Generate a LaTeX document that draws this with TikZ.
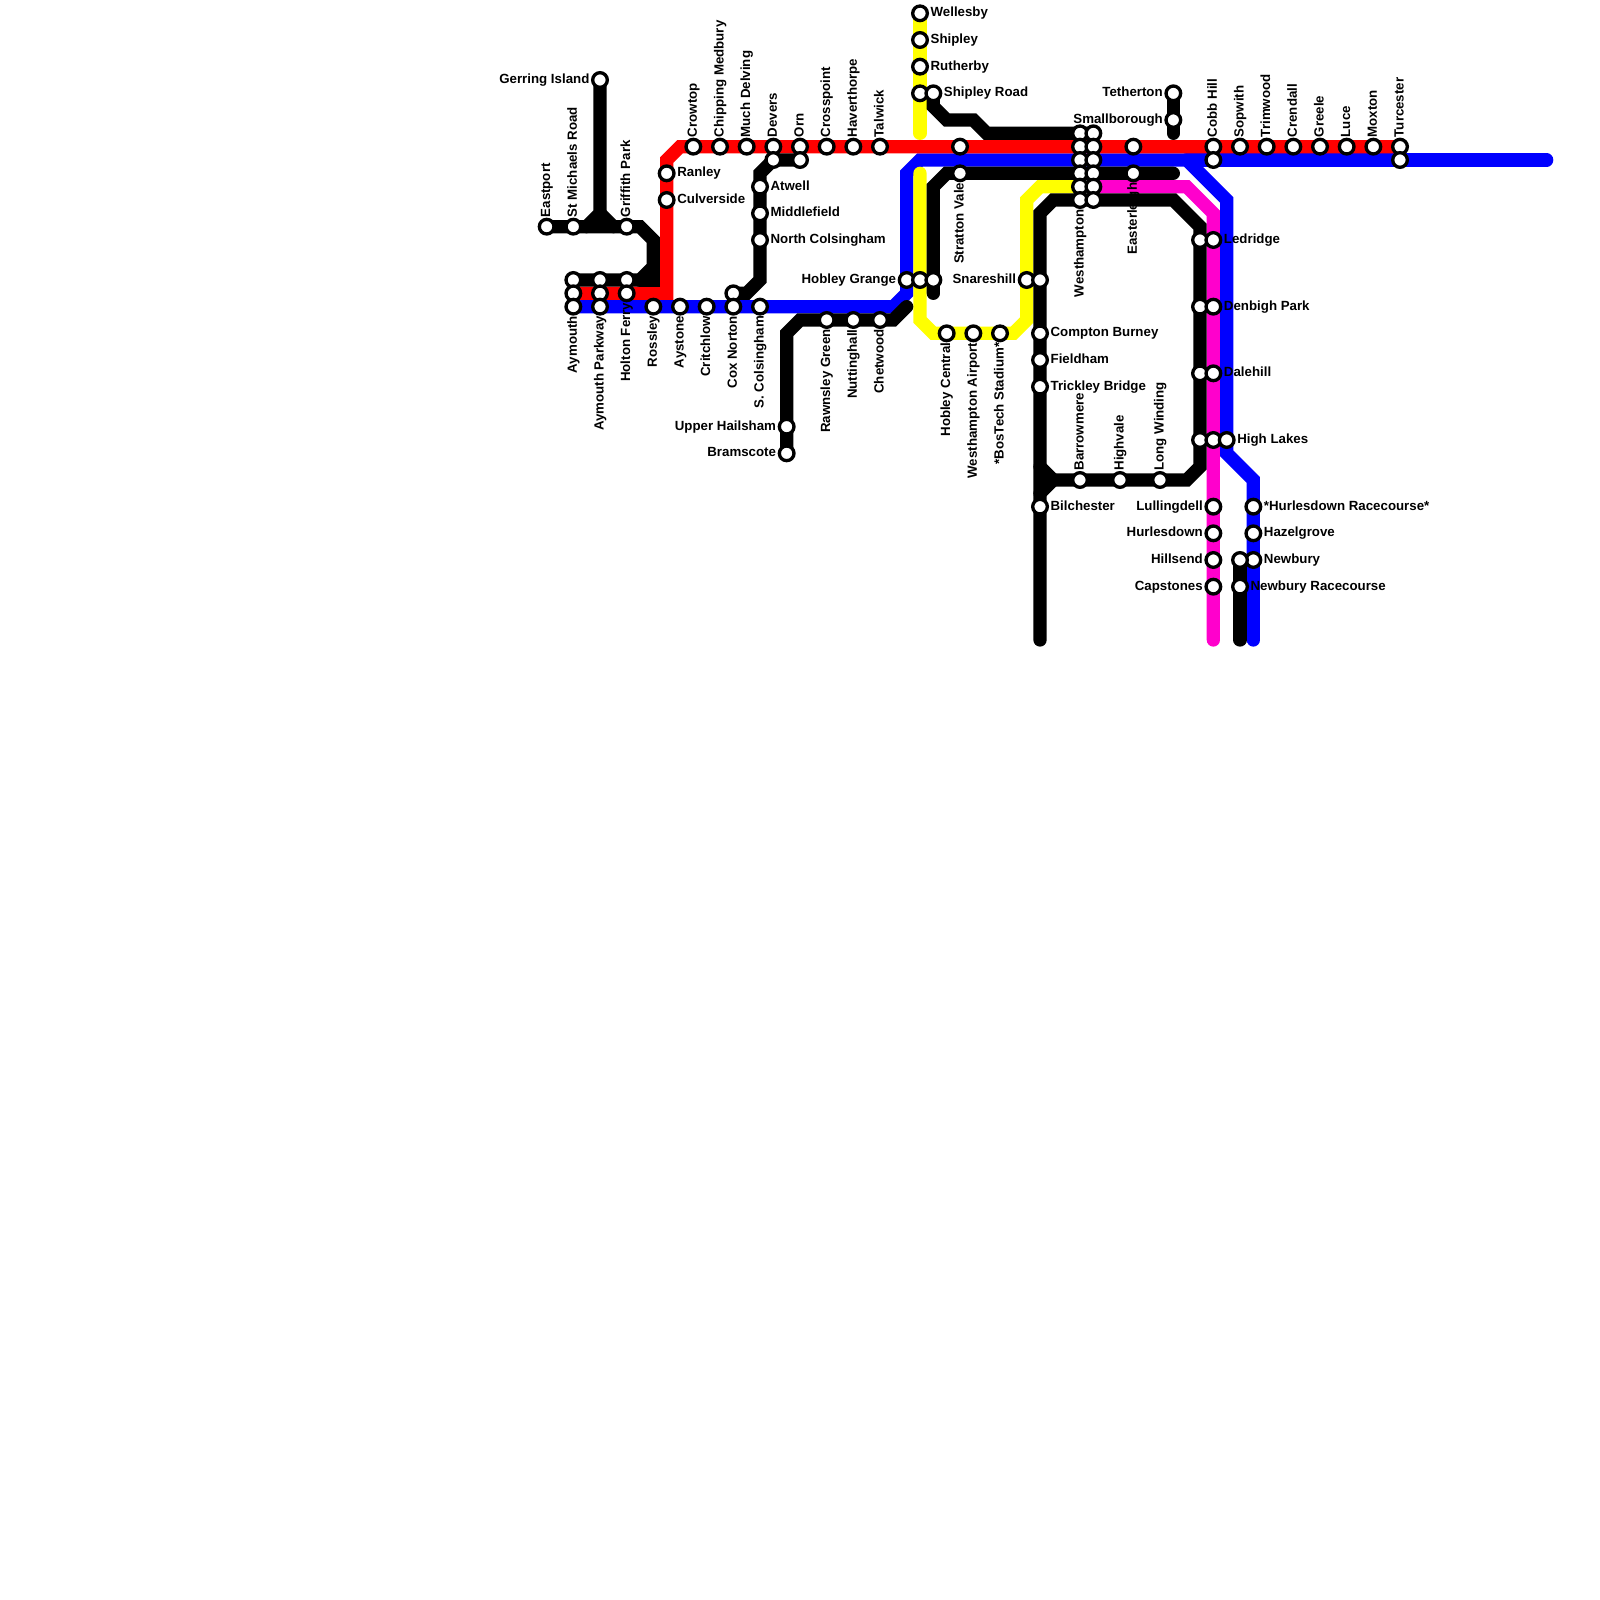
\documentclass[tikz,border=0pt]{standalone}
\usepackage{fontspec}
\setmainfont{Liberation Sans}
\usetikzlibrary{backgrounds}
\definecolor{linemagenta}{HTML}{FF00CC}
\definecolor{linered}{HTML}{FF0000}
\definecolor{lineblue}{HTML}{0000FF}
\definecolor{lineyellow}{HTML}{FFFF00}
\tikzset{
    stn/.style={circle,draw,fill=white,line width=1.42pt,inner sep=0pt,minimum size=6.25pt},
    every label/.style={font=\fontsize{5.67}{6}\selectfont\bfseries,inner xsep=.5pt,inner ysep=0pt,text height=4.1pt,text depth=1.1pt},
    label distance=0pt,
    up/.style={rotate=90,anchor=west,inner xsep=0pt},
    dn/.style={rotate=90,anchor=east,inner xsep=0pt},
    track/.style={line width=5.67pt,line cap=round,miter limit=10},
}

\begin{document}
\begin{tikzpicture}[x=.2cm,y=-.2cm]
\useasboundingbox (0,0) rectangle (120,120);

% west end
\node[stn,label=left:Gerring Island] (gerring) at (45,6) {};
\node[stn,label={[up]above:Eastport}] (eastport) at (41,17) {};
\node[stn,label={[up]above:St Michaels Road}] (michaels) at (43,17) {};
\node[stn,label={[up]above:Griffith Park}] (griffith) at (47,17) {};
\node[stn] (aym1) at (43,21) {};
\node[stn] (aym2) at (43,22) {};
\node[stn,label={[dn]below:Aymouth}] (aym3) at (43,23) {};
\node[stn] (park1) at (45,21) {};
\node[stn] (park2) at (45,22) {};
\node[stn,label={[dn]below:Aymouth Parkway}] (park3) at (45,23) {};
\node[stn] (holton1) at (47,21) {};
\node[stn,label={[dn]below:Holton Ferry}] (holton2) at (47,22) {};
\node[stn,label={[dn]below:Rossley}] (rossley) at (49,23) {};
\node[stn,label={[dn]below:Aystone}] (aystone) at (51,23) {};
\node[stn,label={[dn]below:Critchlow}] (critchlow) at (53,23) {};
\node[stn] (cox1) at (55,22) {};
\node[stn,label={[dn]below:Cox Norton}] (cox2) at (55,23) {};
\node[stn,label={[dn]below:S. Colsingham}] (scols) at (57,23) {};
\node[stn,label=right:Ranley] (ranley) at (50,13) {};
\node[stn,label=right:Culverside] (culverside) at (50,15) {};
\node[stn,label=right:Atwell] (atwell) at (57,14) {};
\node[stn,label=right:Middlefield] (middlefield) at (57,16) {};
\node[stn,label=right:North Colsingham] (ncols) at (57,18) {};

% top row
\node[stn,label={[up]above:Crowtop}] (crowtop) at (52,11) {};
\node[stn,label={[up]above:Chipping Medbury}] (chipping) at (54,11) {};
\node[stn,label={[up]above:Much Delving}] (delving) at (56,11) {};
\node[stn,label={[up]above:Devers}] (devers1) at (58,11) {};
\node[stn] (devers2) at (58,12) {};
\node[stn,label={[up]above:Orn}] (orn1) at (60,11) {};
\node[stn] (orn2) at (60,12) {};
\node[stn,label={[up]above:Crosspoint}] (crosspoint) at (62,11) {};
\node[stn,label={[up]above:Haverthorpe}] (haverthorpe) at (64,11) {};
\node[stn,label={[up]above:Talwick}] (talwick) at (66,11) {};
\node[stn,label={[up]above:Cobb Hill}] (cobb1) at (91,11) {};
\node[stn] (cobb2) at (91,12) {};
\node[stn,label={[up]above:Sopwith}] (sopwith) at (93,11) {};
\node[stn,label={[up]above:Trimwood}] (trimwood) at (95,11) {};
\node[stn,label={[up]above:Crendall}] (crendall) at (97,11) {};
\node[stn,label={[up]above:Greele}] (greele) at (99,11) {};
\node[stn,label={[up]above:Luce}] (luce) at (101,11) {};
\node[stn,label={[up]above:Moxton}] (moxton) at (103,11) {};
\node[stn,label={[up]above:Turcester}] (turcester1) at (105,11) {};
\node[stn] (turcester2) at (105,12) {};

% middle
\node[stn,label={[dn]below:Rawnsley Green}] (rawnsley) at (62,24) {};
\node[stn,label={[dn]below:Nuttinghall}] (nuttinghall) at (64,24) {};
\node[stn,label={[dn]below:Chetwood}] (chetwood) at (66,24) {};
\node[stn,label=left:Upper Hailsham] (hailsham) at (59,32) {};
\node[stn,label=left:Bramscote] (bramscote) at (59,34) {};
\node[stn,label=right:Wellesby] (wellesby) at (69,1) {};
\node[stn,label=right:Shipley] (shipley) at (69,3) {};
\node[stn,label=right:Rutherby] (rutherby) at (69,5) {};
\node[stn] (shipleyy) at (69,7) {};
\node[stn,label=right:Shipley Road] (shipleyr) at (70,7) {};
\node[stn,label=left:Hobley Grange] (hobley1) at (68,21) {};
\node[stn] (hobley2) at (69,21) {};
\node[stn] (hobley3) at (70,21) {};
\node[stn,label={[dn]below:Hobley Central}] (hobleyc) at (71,25) {};
\node[stn,label={[dn]below:Westhampton Airport}] (airport) at (73,25) {};
\node[stn,label={[dn]below:*BosTech Stadium*}] (bostech) at (75,25) {};
\node[stn] (stratton1) at (72,11) {};
\node[stn,label={[dn]below:Stratton Vale}] (stratton2) at (72,13) {};
\node[stn,label=left:Snareshill] (snare1) at (77,21) {};
\node[stn] (snare2) at (78,21) {};
\node[stn,label=right:Compton Burney] (compton) at (78,25) {};
\node[stn,label=right:Fieldham] (fieldham) at (78,27) {};
\node[stn,label=right:Trickley Bridge] (trickley) at (78,29) {};
\node[stn,label=right:Bilchester] (bilchester) at (78,38) {};

% westhampton block
\foreach \x/\s in {81/a,82/b}
    \foreach \y in {10,11,12,13,14}
        \node[stn] (west\s\y) at (\x,\y) {};
\node[stn,label={[dn]below:Westhampton}] (westa15) at (81,15) {};
\node[stn] (westb15) at (82,15) {};
\node[stn] (easter1) at (85,11) {};
\node[stn,label={[dn]below:Easterleigh}] (easter2) at (85,13) {};
\node[stn,label=left:Tetherton] (tetherton) at (88,7) {};
\node[stn,label=left:Smallborough] (smallborough) at (88,9) {};

% east end
\node[stn] (ledridge1) at (90,18) {};
\node[stn,label=right:Ledridge] (ledridge2) at (91,18) {};
\node[stn] (denbigh1) at (90,23) {};
\node[stn,label=right:Denbigh Park] (denbigh2) at (91,23) {};
\node[stn] (dalehill1) at (90,28) {};
\node[stn,label=right:Dalehill] (dalehill2) at (91,28) {};
\node[stn] (lakes1) at (90,33) {};
\node[stn] (lakes2) at (91,33) {};
\node[stn,label=right:High Lakes] (lakes3) at (92,33) {};
\node[stn,label={[up]above:Barrowmere}] (barrowmere) at (81,36) {};
\node[stn,label={[up]above:Highvale}] (highvale) at (84,36) {};
\node[stn,label={[up]above:Long Winding}] (winding) at (87,36) {};
\node[stn,label=left:Lullingdell] (lullingdell) at (91,38) {};
\node[stn,label=left:Hurlesdown] (hurlesdown) at (91,40) {};
\node[stn,label=left:Hillsend] (hillsend) at (91,42) {};
\node[stn,label=left:Capstones] (capstones) at (91,44) {};
\node[stn,label=right:*Hurlesdown Racecourse*] (racecourse) at (94,38) {};
\node[stn,label=right:Hazelgrove] (hazelgrove) at (94,40) {};
\node[stn,label=right:Newbury] (newbury1) at (94,42) {};
\node[stn] (newbury2) at (93,42) {};
\node[stn,label=right:Newbury Racecourse] (newburyr) at (93,44) {};

\begin{scope}[on background layer,every path/.append style={track}]
    % bends
    \foreach \n/\x/\y in {r1/50/22, r2/50/12, r3/51/11,
                          b1/67/23, b2/68/22, b3/68/13, b4/69/12, b5/89/12, b6/92/15, b7/92/34, b8/94/36, b9/94/48, b10/116/12,
                          y1/69/10, y2/69/13, y3/69/24, y4/70/25, y5/76/25, y6/77/24, y7/77/15, y8/78/14,
                          m1/89/14, m2/91/16, m3/91/48,
                          k1/45/16, k2/44/17, k3/46/17, k4/48/17, k5/49/18, k6/49/20, k7/48/21, k8/49/21,
                          k9/56/22, k10/57/21, k11/57/13, k12/58/12,
                          k13/59/25, k14/60/24, k15/67/24, k16/68/23,
                          k17/70/8, k18/71/9, k19/73/9, k20/74/10,
                          k21/88/10, k22/70/22, k23/70/14, k24/71/13, k25/88/13,
                          k26/78/48, k27/78/16, k28/79/15, k29/88/15, k30/90/17, k31/90/35, k32/89/36,
                          k33/78/35, k34/79/36, k35/78/37, k36/93/48}
        \coordinate (\n) at (\x,\y);

    \draw[lineblue] (aym3.center) -- (b1) -- (b2) -- (b3) -- (b4) -- (b5) -- (b6) -- (b7) -- (b8) -- (b9);
    \draw[lineblue] (b5) -- (b10);
    \draw[linered] (aym2.center) -- (r1) -- (r2) -- (r3) -- (turcester1.center);
    \draw[lineyellow] (wellesby.center) -- (y1);
    \draw[lineyellow] (y2) -- (y3) -- (y4) -- (y5) -- (y6) -- (y7) -- (y8) -- (westa14.center);
    \draw[linemagenta] (westb14.center) -- (m1) -- (m2) -- (m3);

    \draw (gerring.center) -- (k1) -- (k2);
    \draw (k1) -- (k3);
    \draw (eastport.center) -- (k4) -- (k5) -- (k6) -- (k7) -- (aym1.center);
    \draw (k6) -- (k8) -- (k7);
    \draw (cox1.center) -- (k9) -- (k10) -- (k11) -- (k12) -- (orn2.center);
    \draw (bramscote.center) -- (k13) -- (k14) -- (k15) -- (k16);
    \draw (shipleyr.center) -- (k17) -- (k18) -- (k19) -- (k20) -- (westb10.center);
    \draw (tetherton.center) -- (k21);
    \draw (k22) -- (k23) -- (k24) -- (k25);
    \draw (k26) -- (k27) -- (k28) -- (k29) -- (k30) -- (k31) -- (k32) -- (k34);
    \draw (k33) -- (k34) -- (k35);
    \draw (newbury2.center) -- (k36);
\end{scope}
\end{tikzpicture}
\end{document}
